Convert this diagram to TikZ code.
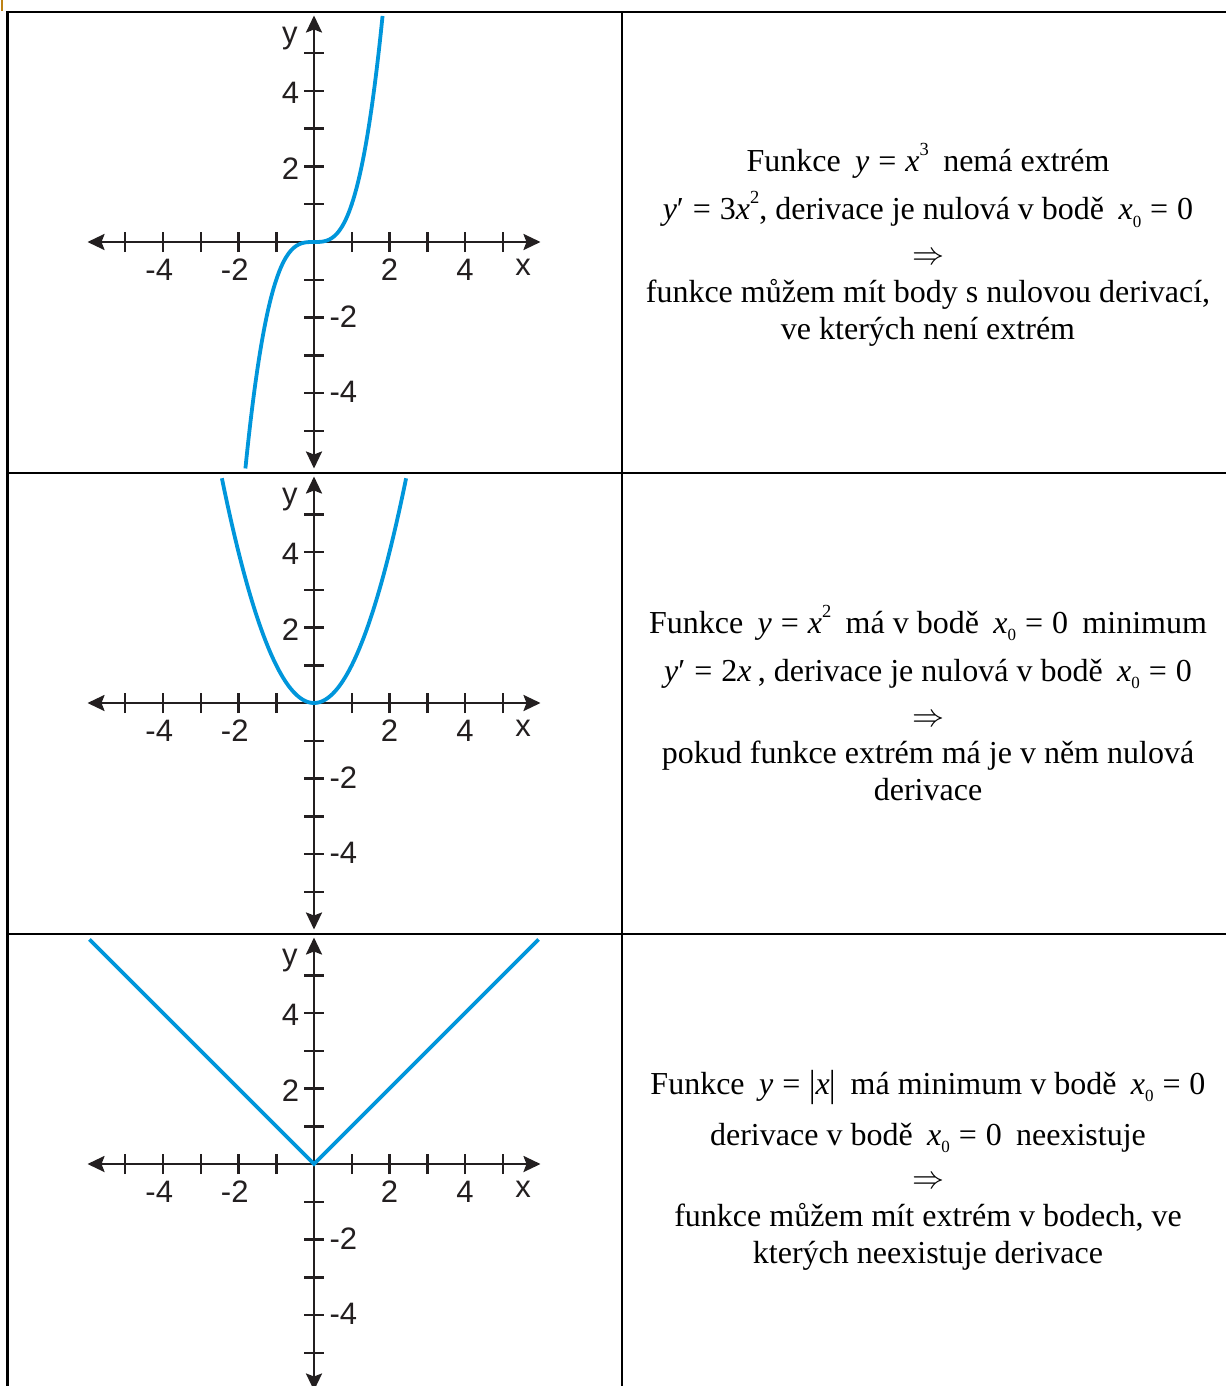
\RequirePackage{fix-cm}
\documentclass[tikz,border=0pt]{standalone}
\usepackage{fontspec}
\usepackage{graphicx}
\setmainfont{Liberation Serif}
\newfontfamily\arialf{Liberation Sans}
\usetikzlibrary{arrows.meta}
\definecolor{axisc}{RGB}{35,31,32}
\definecolor{curvec}{RGB}{0,150,219}
\definecolor{markc}{RGB}{190,130,20}

\newcommand\mi[1]{\textit{#1}}
\newcommand\eqs{\hspace{0.28em}=\hspace{0.28em}}
\newcommand\hs{\hspace{0.45em}}
\newcommand\sups[1]{\raisebox{0.5em}{\fontsize{18.5bp}{18.5bp}\selectfont #1}}
\newcommand\subs[1]{\raisebox{-0.22em}{\fontsize{17bp}{17bp}\selectfont #1}}
\newcommand\vbar{\raisebox{-0.07em}{\scalebox{1}[1.18]{|}}}

\tikzset{
  tableline/.style={line width=2.3bp, black},
  axisline/.style={line width=2.5bp, axisc, {Stealth[length=17bp,width=16bp,inset=3bp]}-{Stealth[length=17bp,width=16bp,inset=3bp]}},
  tickline/.style={line width=2.5bp, axisc},
  curveline/.style={line width=3.8bp, curvec},
  lbl/.style={font=\arialf\fontsize{31bp}{31bp}\selectfont, text=axisc, inner sep=0pt},
  txt/.style={font=\fontsize{32bp}{37bp}\selectfont, inner sep=0pt, anchor=base}
}

% #1 name prefix
\newcommand\axesat[1]{%
  \draw[axisline] (-6,0) -- (6,0);
  \draw[axisline] (0,-6) -- (0,6);
  \foreach \i in {-5,-4,-3,-2,-1,1,2,3,4,5} {
    \draw[tickline] (\i,-0.265) -- (\i,0.265);
    \draw[tickline] (-0.265,\i) -- (0.265,\i);
  }
  \node[lbl] (#1xm4) at (-4.1,-0.74) {-4};
  \node[lbl] (#1xm2) at (-2.1,-0.74) {-2};
  \node[lbl] (#1xp2) at (2,-0.74) {2};
  \node[lbl] (#1xp4) at (4,-0.74) {4};
  \node[lbl] (#1xl) at (5.54,-0.66) {x};
  \node[lbl] (#1yp4) at (-0.62,3.95) {4};
  \node[lbl] (#1yp2) at (-0.62,1.95) {2};
  \node[lbl] (#1ym2) at (0.78,-1.98) {-2};
  \node[lbl] (#1ym4) at (0.78,-3.96) {-4};
  \node[lbl] (#1yl) at (-0.64,5.39) {y};
}

\begin{document}
\begin{tikzpicture}[x=1bp, y=-1bp]
\useasboundingbox (0,0) rectangle (1225,1386);
\fill[white] (0,0) rectangle (1225,1386);

% small mark in the corner
\draw[markc, line width=2bp] (2,0) -- (2,11);

% table
\draw[tableline] (7.5,12) -- (1226,12);
\draw[tableline] (7.5,473) -- (1226,473);
\draw[tableline] (7.5,934) -- (1226,934);
\draw[tableline] (7.5,11) -- (7.5,1387);
\draw[tableline] (622,12) -- (622,1387);

% panel 1
\begin{scope}[shift={(314,242)}, x=37.75bp, y=37.75bp]
  \axesat{a}
  \draw[curveline] plot[domain=-1.817:1.817, samples=121, smooth] (\x,{\x*\x*\x});
\end{scope}

% panel 2
\begin{scope}[shift={(314,703)}, x=37.75bp, y=37.75bp]
  \axesat{b}
  \draw[curveline] plot[domain=-2.44:2.44, samples=121, smooth] (\x,{\x*\x});
\end{scope}

% panel 3
\begin{scope}[shift={(314,1164)}, x=37.75bp, y=37.75bp]
  \axesat{c}
  \draw[curveline] (-5.95,5.95) -- (0,0) -- (5.95,5.95);
\end{scope}

% texts panel 1
\node[txt] (t1a) at (928,172) {Funkce\hs\mi{y}\eqs\mi{x}\sups{3}\hs nemá extrém};
\node[txt] (t1b) at (928,220) {\mi{y}′\eqs3\mi{x}\sups{2}, derivace je nulová v bodě\hs\mi{x}\subs{0}\eqs0};
\node[txt] (t1c) at (928,265) {$\Rightarrow$};
\node[txt] (t1d) at (928,302) {funkce můžem mít body s nulovou derivací,};
\node[txt] (t1e) at (928,339) {ve kterých není extrém};

% texts panel 2
\node[txt] (t2a) at (928,633) {Funkce\hs\mi{y}\eqs\mi{x}\sups{2}\hs má v bodě\hs\mi{x}\subs{0}\eqs0\hs minimum};
\node[txt] (t2b) at (928,681) {\mi{y}′\eqs2\mi{x}\hspace{0.2em}, derivace je nulová v bodě\hs\mi{x}\subs{0}\eqs0};
\node[txt] (t2c) at (928,726) {$\Rightarrow$};
\node[txt] (t2d) at (928,763) {pokud funkce extrém má je v něm nulová};
\node[txt] (t2e) at (928,800) {derivace};

% texts panel 3
\node[txt] (t3a) at (928,1094) {Funkce\hs\mi{y}\eqs\vbar\mi{x}\vbar\hs má minimum v bodě\hs\mi{x}\subs{0}\eqs0};
\node[txt] (t3b) at (928,1145) {derivace v bodě\hs\mi{x}\subs{0}\eqs0\hs neexistuje};
\node[txt] (t3c) at (928,1188) {$\Rightarrow$};
\node[txt] (t3d) at (928,1226) {funkce můžem mít extrém v bodech, ve};
\node[txt] (t3e) at (928,1263) {kterých neexistuje derivace};
\end{tikzpicture}
\end{document}
